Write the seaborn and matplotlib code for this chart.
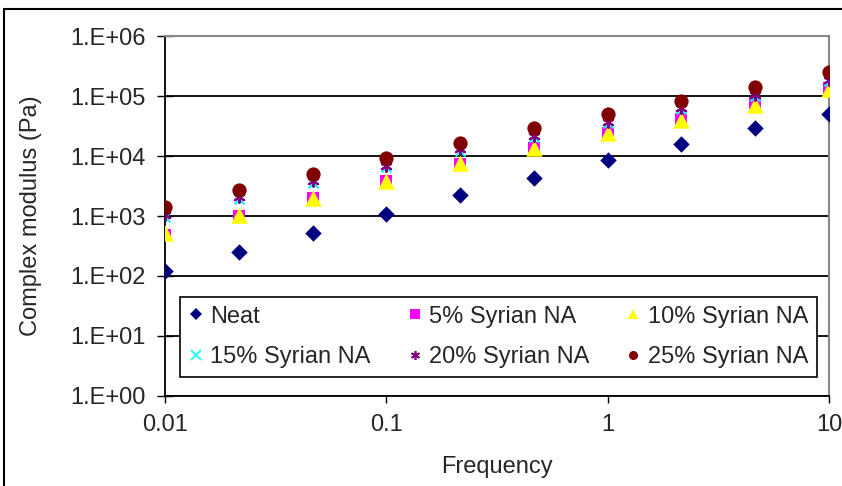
import numpy as np
import pandas as pd
import matplotlib
matplotlib.use("Agg")
import matplotlib.pyplot as plt
import seaborn as sns
from matplotlib.lines import Line2D
from matplotlib.ticker import FixedLocator, FixedFormatter, NullLocator

# ---- data ----
frequency = [0.01, 0.0215, 0.0464, 0.1, 0.215, 0.464, 1.0, 2.15, 4.64, 10.0]
neat = [121, 255, 518, 1070, 2250, 4270, 8550, 15700, 29000, 49800]
syr5 = [485, 1000, 2020, 3900, 7400, 13400, 24000, 41000, 76000, 135000]
syr10 = [520, 1050, 2000, 3850, 7500, 13500, 24500, 40000, 70000, 130000]
syr15 = [950, 1900, 3600, 6500, 12000, 20500, 35000, 60000, 100000, 175000]
syr20 = [1050, 2100, 3900, 6900, 12900, 21600, 37500, 62000, 104000, 185000]
syr25 = [1430, 2720, 5000, 9200, 16700, 29000, 50000, 83000, 143000, 255000]
series_names = ["Neat", "5% Syrian NA", "10% Syrian NA",
                "15% Syrian NA", "20% Syrian NA", "25% Syrian NA"]
y_ticks = [1, 10, 100, 1e3, 1e4, 1e5, 1e6]
y_tick_labels = ["1.E+00", "1.E+01", "1.E+02", "1.E+03", "1.E+04", "1.E+05", "1.E+06"]
x_ticks = [0.01, 0.1, 1, 10]
x_tick_labels = ["0.01", "0.1", "1", "10"]

values = [neat, syr5, syr10, syr15, syr20, syr25]
df = pd.concat([pd.DataFrame({"Frequency": frequency, "Modulus": v, "Series": n})
                for n, v in zip(series_names, values)], ignore_index=True)

colors = ["#000080", "#FF00FF", "#FFFF00", "#00FFFF", "#800080", "#800000"]
markers = ["D", "s", "^", "x", (6, 2, 0), "o"]
sizes = [70, 80, 140, 50, 60, 105]

sns.set_theme(style="white")
plt.rcParams["font.family"] = ["Liberation Sans", "DejaVu Sans"]
FS = 17

fig = plt.figure(figsize=(8.42, 4.86), dpi=100)
ax = fig.add_axes([165/842, 1 - 396/486, (829-165)/842, (396-36)/486])

handles = {}
for n, c, m, s in zip(series_names, colors, markers, sizes):
    sub = df[df["Series"] == n]
    lw = 1.5 if m in ("x",) or isinstance(m, tuple) else 0
    sns.scatterplot(data=sub, x="Frequency", y="Modulus", ax=ax, color=c,
                    marker=m, s=s, linewidth=lw, edgecolor=c, legend=False, zorder=3)
    handles[n] = Line2D([], [], linestyle="none", marker=m, color=c,
                        markerfacecolor=c, markeredgecolor=c,
                        markersize=6.5, markeredgewidth=1.2 if lw else 0)

ax.set_xscale("log")
ax.set_yscale("log")
ax.set_xlim(0.01, 10)
ax.set_ylim(1, 1e6)

ax.yaxis.set_major_locator(FixedLocator(y_ticks))
ax.yaxis.set_major_formatter(FixedFormatter(y_tick_labels))
ax.yaxis.set_minor_locator(NullLocator())
ax.xaxis.set_major_locator(FixedLocator(x_ticks))
ax.xaxis.set_major_formatter(FixedFormatter(x_tick_labels))
ax.xaxis.set_minor_locator(NullLocator())

ax.set_axisbelow(True)
ax.yaxis.grid(True, color="black", linewidth=1.3)
ax.xaxis.grid(False)

for side in ("left", "bottom"):
    ax.spines[side].set_color("black")
    ax.spines[side].set_linewidth(1.3)
for side in ("top", "right"):
    ax.spines[side].set_color("#888888")
    ax.spines[side].set_linewidth(1.5)

ax.tick_params(axis="y", direction="inout", length=12, width=1, color="black",
               labelsize=FS, pad=8, left=True)
ax.tick_params(axis="x", direction="out", length=5, width=1, color="black",
               labelsize=FS, pad=8, bottom=True)

ax.set_xlabel("Frequency", fontsize=FS, labelpad=14)
ax.set_ylabel("Complex modulus (Pa)", fontsize=FS, labelpad=20)

order = ["Neat", "15% Syrian NA", "5% Syrian NA", "20% Syrian NA",
         "10% Syrian NA", "25% Syrian NA"]
leg = ax.legend([handles[o] for o in order], order, ncol=3,
                loc="lower left",
                bbox_to_anchor=(15/664, 19/360, (817-180)/664, (377-295)/360),
                mode="expand", frameon=True, fancybox=False, fontsize=FS,
                handlelength=0.6, handletextpad=0.3, borderaxespad=0,
                labelspacing=0.78, borderpad=0.38, columnspacing=0.8)
leg.get_frame().set_edgecolor("black")
leg.get_frame().set_linewidth(1.2)
leg.get_frame().set_alpha(1)

# outer chart-area border
fig.add_artist(Line2D([4/842, 4/842], [0, 1 - 9/486], transform=fig.transFigure,
                      color="black", linewidth=1.5))
fig.add_artist(Line2D([4/842, 1], [1 - 9/486, 1 - 9/486], transform=fig.transFigure,
                      color="black", linewidth=1.5))

fig.savefig("out.png", dpi=100)
